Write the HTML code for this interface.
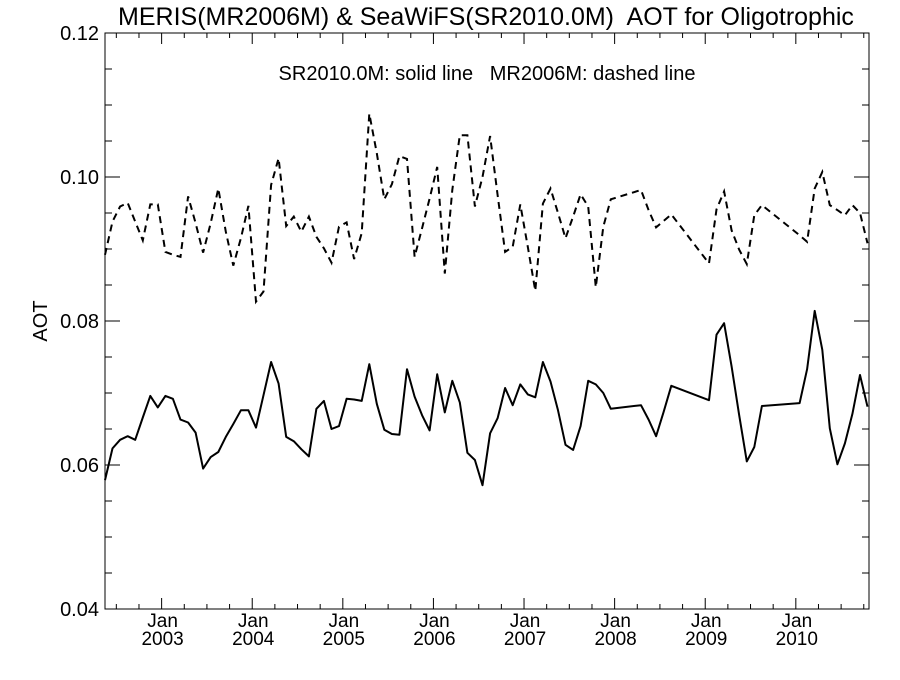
<!DOCTYPE html>
<html><head><meta charset="utf-8"><style>
body{margin:0;background:#fff;}
svg text{font-family:"Liberation Sans",sans-serif;fill:#000;white-space:pre;}
</style></head><body>
<svg id="chart" width="900" height="675" xmlns="http://www.w3.org/2000/svg" xml:space="preserve">
<text x="486" y="25" font-size="25" text-anchor="middle">MERIS(MR2006M) &amp; SeaWiFS(SR2010.0M)  AOT for Oligotrophic</text>
<text x="487" y="80" font-size="20" text-anchor="middle">SR2010.0M: solid line   MR2006M: dashed line</text>
<text x="47" y="321" font-size="20" text-anchor="middle" transform="rotate(-90 47 321)">AOT</text>
<g id="axes"></g>
<g id="series"></g>
</svg>
<script>
// Month index from May 2002 (0) to Oct 2010 (101)
const solidMonths=[0,1,2,3,4,5,6,7,8,9,10,11,12,13,14,15,16,17,18,19,20,21,22,23,24,25,26,27,28,29,30,31,32,33,34,35,36,37,38,39,40,41,42,43,44,45,46,47,48,49,50,51,52,53,54,55,56,57,58,59,60,61,62,63,64,65,66,67,71,72,73,74,75,80,81,82,83,84,85,86,87,92,93,94,95,96,97,98,99,100,101];
const solidValues=[0.0579,0.0623,0.0635,0.0640,0.0635,0.0666,0.0696,0.0680,0.0696,0.0692,0.0663,0.0659,0.0645,0.0595,0.0611,0.0618,0.0639,0.0657,0.0676,0.0676,0.0652,0.0697,0.0743,0.0713,0.0639,0.0633,0.0622,0.0612,0.0678,0.0689,0.0650,0.0654,0.0692,0.0691,0.0689,0.0740,0.0685,0.0649,0.0643,0.0642,0.0733,0.0695,0.0669,0.0648,0.0726,0.0673,0.0717,0.0687,0.0617,0.0607,0.0572,0.0644,0.0665,0.0707,0.0683,0.0712,0.0698,0.0694,0.0743,0.0716,0.0676,0.0628,0.0621,0.0654,0.0717,0.0712,0.0700,0.0678,0.0683,0.0663,0.0640,0.0674,0.0710,0.0690,0.0781,0.0797,0.0737,0.0669,0.0605,0.0625,0.0682,0.0686,0.0733,0.0814,0.0760,0.0651,0.0601,0.0630,0.0671,0.0725,0.0681];
const dashedMonths=solidMonths;
const dashedValues=[0.0892,0.0938,0.0959,0.0964,0.0938,0.0912,0.0962,0.0962,0.0896,0.0892,0.0889,0.0973,0.0936,0.0895,0.0936,0.0984,0.0924,0.0877,0.0915,0.0960,0.0827,0.0841,0.0989,0.1026,0.0932,0.0945,0.0924,0.0945,0.0917,0.0901,0.0881,0.0931,0.0937,0.0886,0.0922,0.1088,0.1033,0.0969,0.0990,0.1029,0.1025,0.0889,0.0929,0.0970,0.1014,0.0866,0.0982,0.1058,0.1058,0.0959,0.1000,0.1057,0.0975,0.0896,0.0903,0.0962,0.0903,0.0842,0.0963,0.0984,0.0950,0.0915,0.0945,0.0976,0.0959,0.0847,0.0931,0.0969,0.0982,0.0954,0.0930,0.0939,0.0948,0.0880,0.0955,0.0980,0.0926,0.0899,0.0879,0.0947,0.0961,0.0919,0.0910,0.0984,0.1007,0.0961,0.0954,0.0947,0.0961,0.0950,0.0908];
const yTicks=[0.04,0.06,0.08,0.10,0.12];
const yTickLabels=["0.04","0.06","0.08","0.10","0.12"];
const xYears=[2003,2004,2005,2006,2007,2008,2009,2010];

const L=105,R=869,T=33,B=609;
const yMin=0.04,yMax=0.12;
const y=v=>B-(v-yMin)/(yMax-yMin)*(B-T);
const x=i=>L+i*7.55; // i = months since mid-May 2002
const NS="http://www.w3.org/2000/svg";
function mk(tag,attrs,parent,txt){const e=document.createElementNS(NS,tag);for(const k in attrs)e.setAttribute(k,attrs[k]);if(txt!==undefined)e.textContent=txt;parent.appendChild(e);return e;}
const ax=document.getElementById('axes');
const frame=mk('rect',{x:L,y:T,width:R-L,height:B-T,fill:'none',stroke:'#000','stroke-width':1},ax);


for(let k=0;k<=16;k++){
  const v=0.04+k*0.005;
  const major=k%4===0;
  const len=major?15:7;const yy=y(v);
  const t1=mk('line',{x1:L,x2:L+len,y1:yy,y2:yy,stroke:'#000'},ax);
  
  
  const t2=mk('line',{x1:R,x2:R-len,y1:yy,y2:yy,stroke:'#000'},ax);
  
  
}
yTicks.forEach((v,k)=>{
  const t=mk('text',{x:99,y:y(v)+7,'font-size':20,'text-anchor':'end'},ax,yTickLabels[k]);
  
  
});
for(let m=0;m<=108;m+=3){
  const i=m-4.5;const xx=x(i);if(xx<L||xx>R)continue;
  const major=m%12===0;const len=major?11:5;
  const t1=mk('line',{x1:xx,x2:xx,y1:B,y2:B-len,stroke:'#000'},ax);
  
  
  const t2=mk('line',{x1:xx,x2:xx,y1:T,y2:T+len,stroke:'#000'},ax);
  
  
}
xYears.forEach(yr=>{
  const xx=x((yr-2002)*12-4.5)+1;
  const a=mk('text',{x:xx,y:627,'font-size':19,'text-anchor':'middle'},ax,'Jan');
  
  
  const b=mk('text',{x:xx,y:645,'font-size':19,'text-anchor':'middle'},ax,String(yr));
  
  
});
const sg=document.getElementById('series');
function pts(ms,vs){return ms.map((m,k)=>x(m).toFixed(1)+','+y(vs[k]).toFixed(1)).join(' ');}
const s=mk('polyline',{points:pts(solidMonths,solidValues),fill:'none',stroke:'#000','stroke-width':2,'stroke-linejoin':'round'},sg);


const d=mk('polyline',{points:pts(dashedMonths,dashedValues),fill:'none',stroke:'#000','stroke-width':2,'stroke-dasharray':'7,5'},sg);


</script>
</body></html>
